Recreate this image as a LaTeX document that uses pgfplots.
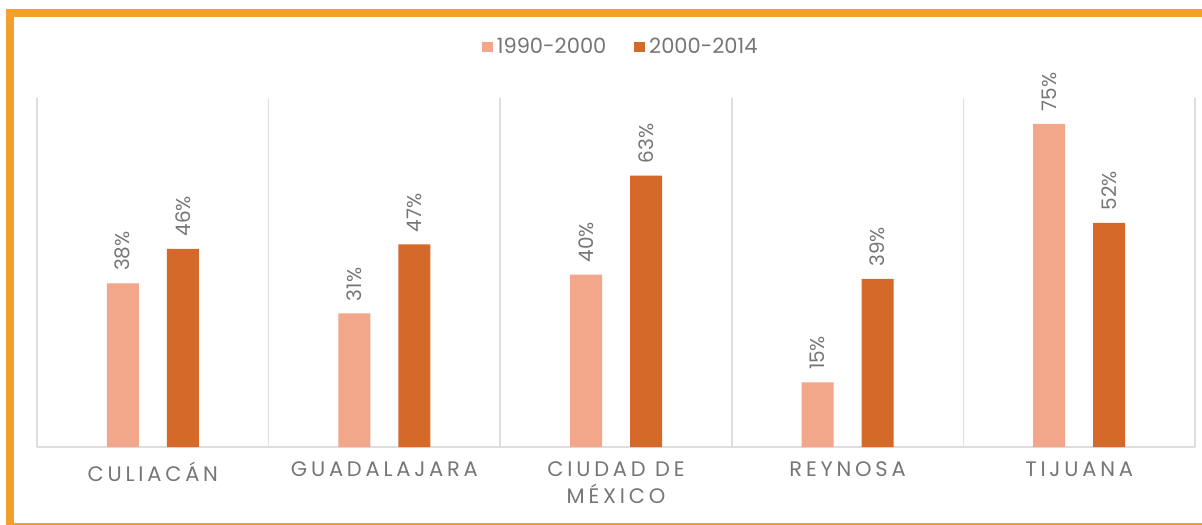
\documentclass[border=0pt]{standalone}
\usepackage{fontspec}
\setmainfont{Poppins}
\newfontfamily\spaced[LetterSpace=18]{Poppins}
\usepackage{pgfplots}
\pgfplotsset{compat=1.18}
\definecolor{cLight}{HTML}{F2A68A}
\definecolor{cDark}{HTML}{D4692A}
\definecolor{cFrame}{HTML}{F3A02A}
\definecolor{cTxt}{HTML}{767676}
\definecolor{cSep}{HTML}{DEDEDE}
\begin{document}
\begin{tikzpicture}
\path[use as bounding box] (0,0) rectangle (601pt,262pt);
\begin{scope}
\clip (0,0) rectangle (601pt,262pt);
\fill[white] (0,0) rectangle (601pt,262pt);
\draw[cFrame, line width=4pt] (4.75pt,-1.4pt) rectangle (620pt,255.5pt);
\end{scope}
\begin{axis}[
 at={(18.5pt,38.5pt)}, anchor=south west,
 scale only axis, width=579pt, height=174.5pt,
 xmin=-0.5, xmax=4.5, ymin=0, ymax=81,
 axis x line*=bottom, axis y line=none,
 x axis line style={cSep, line width=0.8pt, -},
 xtick={0,...,4}, xticklabels={CULIACÁN,GUADALAJARA,{CIUDAD DE\\MÉXICO},REYNOSA,TIJUANA},
 major tick length=0pt,
 extra x ticks={-0.5,0.5,1.5,2.5,3.5,4.5}, extra x tick labels={},
 extra x tick style={grid=major, major grid style={cSep, line width=0.8pt}},
 xticklabel style={font=\spaced\fontsize{10.5}{13.5}\selectfont, text=cTxt, align=center, yshift=-4pt},
 ybar, bar width=16pt,
 /pgf/number format/assume math mode=true,
 nodes near coords={\pgfmathprintnumber{\pgfplotspointmeta}\%},
 every node near coord/.append style={rotate=90, anchor=west, font=\fontsize{10}{12}\selectfont, text=cTxt, inner xsep=6pt},
 legend style={at={(0.505,1.146)}, anchor=center, draw=none, fill=none, legend columns=2, font=\fontsize{10.5}{12}\selectfont, text=cTxt, /tikz/every even column/.append style={column sep=12pt}},
 legend image code/.code={\fill[#1] (0pt,-2.7pt) rectangle (5.4pt,2.7pt);},
]
\addplot[fill=cLight, draw=none, bar shift=-15pt] coordinates {(0,38) (1,31) (2,40) (3,15) (4,75)};
\addplot[fill=cDark, draw=none, bar shift=15pt] coordinates {(0,46) (1,47) (2,63) (3,39) (4,52)};
\legend{1990-2000,2000-2014}
\end{axis}
\end{tikzpicture}
\end{document}
